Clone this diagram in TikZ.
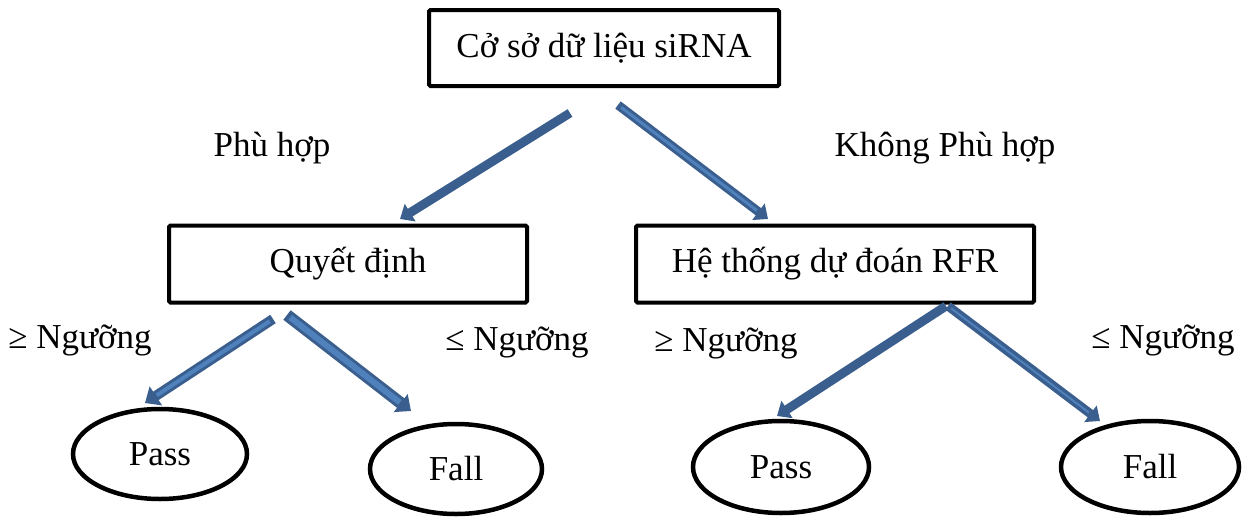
\documentclass[tikz,border=0pt]{standalone}
\usepackage{fontspec}
\setmainfont{Liberation Serif}
\usetikzlibrary{shapes.geometric,arrows.meta}
\definecolor{arrdark}{HTML}{3A5F8E}
\definecolor{arrlight}{HTML}{4F81BD}
\newcommand{\bigtext}{\fontsize{35}{40}\selectfont}
\tikzset{
  box/.style={draw=black, line width=4pt, rounded corners=1.5pt, inner sep=0pt},
  oval/.style={draw=black, line width=4.5pt, ellipse, inner sep=0pt},
  lbl/.style={inner sep=0pt, font=\bigtext},
  blockarrow/.style={draw=arrdark, line width=9pt,
    -{Triangle[width=20pt,length=12pt]}},
  hollowarrow/.style={draw=arrdark, line width=10pt,
    -{Triangle[width=22pt,length=13pt]}},
  coreline/.style={draw=arrlight, line width=3pt}
}
\begin{document}
\begin{tikzpicture}[x=1pt,y=-1pt]
\useasboundingbox (0,0) rectangle (1242,525);

% boxes
\node[box, minimum width=350pt, minimum height=76pt] (db) at (604,48)
  {\bigtext Cở sở dữ liệu siRNA};
\node[box, minimum width=358pt, minimum height=77pt] (qd) at (348,264)
  {\bigtext Quyết định};
\node[box, minimum width=398pt, minimum height=77pt] (rfr) at (835,264)
  {\bigtext Hệ thống dự đoán RFR};

% ellipses
\node[oval, minimum width=174pt, minimum height=90pt] (p1) at (160,454)
  {\bigtext Pass};
\node[oval, minimum width=172pt, minimum height=90pt] (f1) at (456,469)
  {\bigtext Fall};
\node[oval, minimum width=176pt, minimum height=92pt] (p2) at (781,467)
  {\bigtext Pass};
\node[oval, minimum width=178pt, minimum height=92pt] (f2) at (1150,467)
  {\bigtext Fall};

% labels
\node[lbl] (l1) at (272,148) {Phù hợp};
\node[lbl] (l2) at (945,148) {Không Phù hợp};
\node[lbl] (l3) at (80,340) {≥ Ngưỡng};
\node[lbl] (l4) at (517,342) {≤ Ngưỡng};
\node[lbl] (l5) at (726,343) {≥ Ngưỡng};
\node[lbl] (l6) at (1163,340) {≤ Ngưỡng};

% arrow end points
\coordinate (a1s) at (570,113); \coordinate (a1e) at (400,219);
\coordinate (a2s) at (618,105); \coordinate (a2e) at (768,219);
\coordinate (a3s) at (273,319); \coordinate (a3e) at (145,403);
\coordinate (a4s) at (287,315); \coordinate (a4e) at (411,411);
\coordinate (a5s) at (946,306); \coordinate (a5e) at (777,416);
\coordinate (a6s) at (948,306); \coordinate (a6e) at (1100,421);

% arrows
\draw[blockarrow] (a1s) -- (a1e);
\draw[blockarrow] (a2s) -- (a2e);
\draw[coreline, shorten <=4pt, shorten >=14pt] (a2s) -- (a2e);
\draw[hollowarrow] (a3s) -- (a3e);
\draw[coreline, line width=4pt, shorten <=4pt, shorten >=14pt] (a3s) -- (a3e);
\draw[hollowarrow, line width=12pt] (a4s) -- (a4e);
\draw[coreline, line width=6pt, shorten <=4pt, shorten >=14pt] (a4s) -- (a4e);
\draw[blockarrow] (a5s) -- (a5e);
\draw[blockarrow] (a6s) -- (a6e);
\draw[coreline, line width=2pt, shorten <=4pt, shorten >=14pt] (a6s) -- (a6e);
\end{tikzpicture}
\end{document}
